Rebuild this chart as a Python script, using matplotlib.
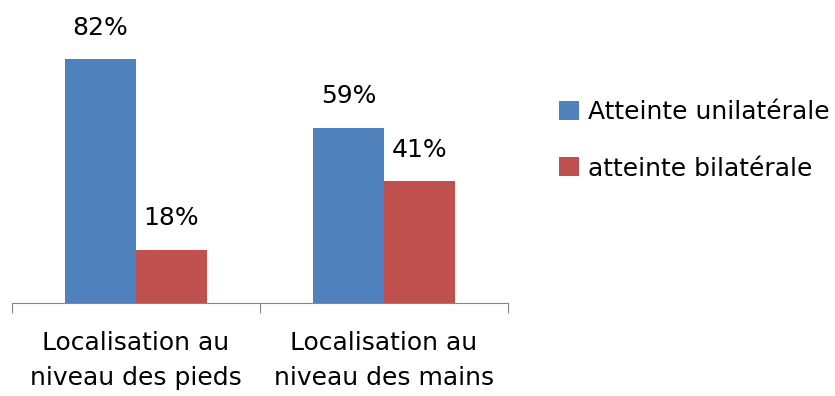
import matplotlib
matplotlib.use("Agg")
import matplotlib.pyplot as plt
import numpy as np

categories = ["Localisation au\nniveau des pieds", "Localisation au\nniveau des mains"]
series_names = ["Atteinte unilatérale", "atteinte bilatérale"]
unilaterale = [82, 59]
bilaterale = [18, 41]
colors = ["#4F81BD", "#C0504D"]

W, H = 835, 396
fig = plt.figure(figsize=(W / 100, H / 100), dpi=100)
left, right = 12 / W, 508 / W
bottom = 1 - 303 / H
top = 1 - 6 / H
ax = fig.add_axes([left, bottom, right - left, top - bottom])

x = np.arange(len(categories))
bw = 0.286
b1 = ax.bar(x - bw / 2, unilaterale, bw, color=colors[0], label=series_names[0])
b2 = ax.bar(x + bw / 2, bilaterale, bw, color=colors[1], label=series_names[1])

fs = 18
for bars, vals in ((b1, unilaterale), (b2, bilaterale)):
    for r, v in zip(bars, vals):
        ax.annotate(f"{v}%", (r.get_x() + r.get_width() / 2, v), xytext=(0, 14),
                    textcoords="offset points", ha="center", va="bottom", fontsize=fs)

ax.set_xlim(-0.5, 1.5)
ax.set_ylim(0, 100)
for s in ["top", "right", "left"]:
    ax.spines[s].set_visible(False)
ax.spines["bottom"].set_color("#868686")
ax.set_yticks([])
ax.set_xticks([-0.5, 0.5, 1.5], minor=False)
ax.set_xticklabels([])
ax.tick_params(axis="x", which="major", length=7, color="#868686", direction="out")
ax.set_xticks(x, minor=True)
ax.set_xticklabels(categories, minor=True, fontsize=fs, linespacing=1.58)
ax.tick_params(axis="x", which="minor", length=0, pad=20)

fig.legend(handles=[b1, b2], labels=series_names, loc="upper left",
           bbox_to_anchor=(559 / W, 1 - 100 / H), frameon=False, fontsize=fs,
           handlelength=0.78, handleheight=0.78, handletextpad=0.4, labelspacing=1.3,
           borderaxespad=0, borderpad=0)

fig.savefig("out.png", dpi=100)
